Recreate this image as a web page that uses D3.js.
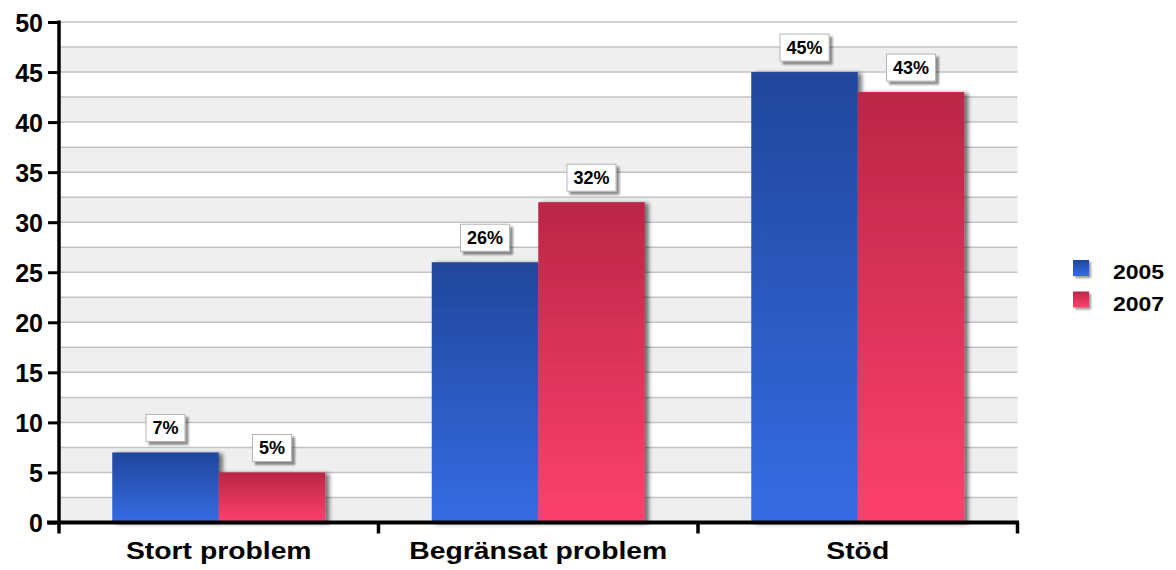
<!DOCTYPE html>
<html>
<head>
<meta charset="utf-8">
<script src="https://cdn.jsdelivr.net/npm/d3@7"></script>
<style>
  body { margin: 0; background: #fff; }
  svg { display: block; }
  text { font-family: "Liberation Sans", Arial, Helvetica, sans-serif; font-weight: bold; fill: #000; }
</style>
</head>
<body>
<svg id="chart" width="1176" height="570"></svg>
<script>
// Data
const categories = ["Stort problem", "Begränsat problem", "Stöd"];
const seriesNames = ["2005", "2007"];
const values2005 = [7, 26, 45];
const values2007 = [5, 32, 43];
const yTicks = [0, 5, 10, 15, 20, 25, 30, 35, 40, 45, 50];

const seriesValues = [values2005, values2007];
const seriesColors = [
  { top: "#21469b", bottom: "#356ce4" },
  { top: "#bb2646", bottom: "#fd416e" }
];

const svg = d3.select("#chart");
const plot = { left: 59, right: 1017.5, top: 22, bottom: 522.5 };

const y = d3.scaleLinear().domain([0, 50]).range([plot.bottom, plot.top]);
const x = d3.scaleBand().domain(categories).range([plot.left, plot.right]).paddingInner(0).paddingOuter(0);
const xSeries = d3.scaleBand().domain(seriesNames)
  .range([x.bandwidth() / 6, x.bandwidth() * 5 / 6]).paddingInner(0).paddingOuter(0);

// Definitions: gradients and shadows
const defs = svg.append("defs");
seriesColors.forEach((c, i) => {
  const g = defs.append("linearGradient").attr("id", "grad" + i)
    .attr("x1", 0).attr("y1", 0).attr("x2", 0).attr("y2", 1);
  g.append("stop").attr("offset", "0%").attr("stop-color", c.top);
  g.append("stop").attr("offset", "100%").attr("stop-color", c.bottom);
});
function shadow(id, dx, dy, sd, op) {
  const f = defs.append("filter").attr("id", id)
    .attr("x", "-20%").attr("y", "-20%").attr("width", "140%").attr("height", "140%");
  f.append("feGaussianBlur").attr("in", "SourceAlpha").attr("stdDeviation", sd).attr("result", "b");
  f.append("feOffset").attr("in", "b").attr("dx", dx).attr("dy", dy).attr("result", "o");
  f.append("feComponentTransfer").attr("in", "o").attr("result", "s")
    .append("feFuncA").attr("type", "linear").attr("slope", op);
  const m = f.append("feMerge");
  m.append("feMergeNode").attr("in", "s");
  m.append("feMergeNode").attr("in", "SourceGraphic");
}
shadow("barShadow", 4, 1, 2.2, 0.55);
shadow("boxShadow", 2.5, 2.5, 1.3, 0.45);
shadow("keyShadow", 2, 2, 1.2, 0.4);

// Alternating background bands and gridlines
const half = 2.5;
const bandStarts = d3.range(0, 50, 5);
svg.append("g").selectAll("rect").data(bandStarts).join("rect")
  .attr("x", plot.left).attr("width", plot.right - plot.left)
  .attr("y", d => y(d + half)).attr("height", d => y(d) - y(d + half))
  .attr("fill", "#efefef");

svg.append("g").selectAll("line").data(d3.range(half, 50 + 0.01, half)).join("line")
  .attr("x1", plot.left).attr("x2", plot.right)
  .attr("y1", d => y(d)).attr("y2", d => y(d))
  .attr("stroke", "#c3c3c3").attr("stroke-width", 1.5);

// Bars
const groups = svg.append("g").selectAll("g").data(categories).join("g")
  .attr("transform", c => `translate(${x(c)},0)`);

const barData = (c, ci) => seriesNames.map((s, si) => ({ s, si, v: seriesValues[si][ci] }));

groups.each(function (c, ci) {
  const g = d3.select(this);
  g.selectAll("rect.bar").data(barData(c, ci)).join("rect")
    .attr("class", "bar")
    .attr("x", d => xSeries(d.s))
    .attr("width", xSeries.bandwidth())
    .attr("y", d => y(d.v))
    .attr("height", d => y(0) - y(d.v))
    .attr("fill", d => `url(#grad${d.si})`)
    .attr("filter", "url(#barShadow)");
});

// Value labels in boxes
groups.each(function (c, ci) {
  const g = d3.select(this);
  barData(c, ci).forEach(d => {
    const cx = xSeries(d.s) + xSeries.bandwidth() / 2;
    const lab = g.append("g").attr("transform", `translate(${cx},${y(d.v) - 11})`);
    const box = lab.append("rect").attr("fill", "#fff").attr("stroke", "#b5b5b5").attr("stroke-width", 1)
      .attr("filter", "url(#boxShadow)");
    const t = lab.append("text").attr("text-anchor", "middle").attr("y", -7)
      .style("font-size", "18px").text(d3.format(".0f")(d.v) + "%");
    const w = t.node().getComputedTextLength() + 13;
    box.attr("x", -w / 2).attr("y", -27).attr("width", w).attr("height", 27);
  });
});

// Y axis
const yAxis = svg.append("g").attr("transform", `translate(${plot.left},0)`)
  .call(d3.axisLeft(y).tickValues(yTicks).tickSize(11).tickSizeOuter(0).tickPadding(5));
yAxis.select(".domain").remove();
yAxis.selectAll(".tick line").attr("stroke", "#000").attr("stroke-width", 3);
yAxis.selectAll(".tick text").style("font-size", "25px").attr("dy", "0.36em");

// X axis: boundary ticks and centred category labels
const boundaries = categories.map(c => x(c)).concat([plot.right]);
const axisG = svg.append("g");
axisG.append("line")
  .attr("x1", plot.left - 12).attr("x2", plot.right + 1.5)
  .attr("y1", y(0)).attr("y2", y(0))
  .attr("stroke", "#000").attr("stroke-width", 4);
axisG.append("line")
  .attr("x1", plot.left).attr("x2", plot.left)
  .attr("y1", y(50) - 1.5).attr("y2", y(0) + 11)
  .attr("stroke", "#000").attr("stroke-width", 3.5);
axisG.selectAll("line.btick").data(boundaries.slice(1)).join("line")
  .attr("class", "btick")
  .attr("x1", d => d).attr("x2", d => d)
  .attr("y1", y(0)).attr("y2", y(0) + 11)
  .attr("stroke", "#000").attr("stroke-width", 3.5);

const xAxis = svg.append("g").attr("transform", `translate(0,${y(0)})`)
  .call(d3.axisBottom(x).tickSize(0).tickPadding(0));
xAxis.select(".domain").remove();
xAxis.selectAll(".tick text")
  .attr("y", 37).attr("dy", 0)
  .style("font-size", "24px")
  .attr("transform", "scale(1.18,1)");

// Legend
const legend = svg.append("g").attr("transform", "translate(1073,260)");
const items = legend.selectAll("g").data(seriesNames).join("g")
  .attr("transform", (d, i) => `translate(0,${i * 31.5})`);
items.append("rect").attr("width", 16).attr("height", 16)
  .attr("fill", (d, i) => `url(#grad${i})`).attr("filter", "url(#keyShadow)");
items.append("g").attr("transform", "translate(40,19)")
  .append("text").style("font-size", "19.5px").attr("transform", "scale(1.18,1)").text(d => d);
</script>
</body>
</html>
